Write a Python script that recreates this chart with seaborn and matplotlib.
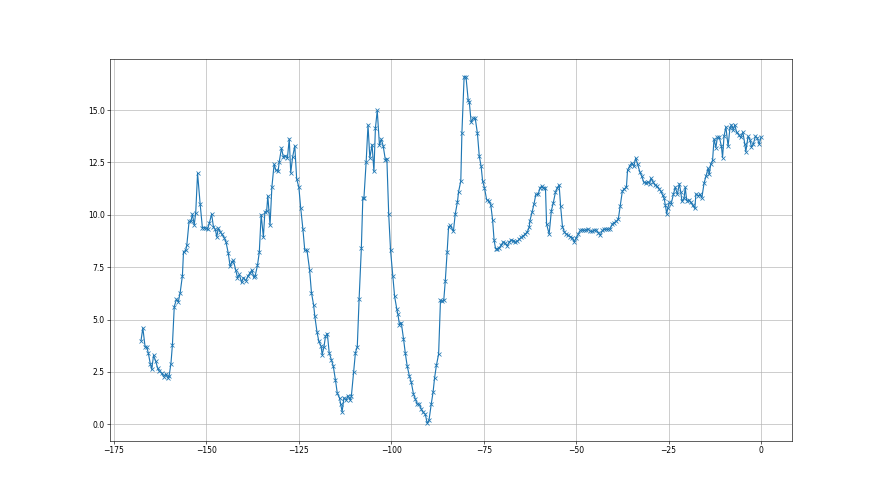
import matplotlib
matplotlib.use("Agg")
import matplotlib.pyplot as plt
import seaborn as sns
import pandas as pd

x_a = [-167.7, -167.2, -166.6, -166.1, -165.7, -165.2, -164.8, -164.3, -163.7, -163.2,
       -162.7, -162.1, -161.6, -161.0, -160.5, -160.1, -159.6, -159.2, -158.7, -158.1,
       -157.6, -157.1, -156.5, -156.2, -155.6, -155.3, -154.7, -154.2, -153.8, -153.3,
       -152.9, -152.4, -151.7, -151.1, -150.6, -150.1, -149.7, -149.2, -148.6, -148.1,
       -147.6, -147.2, -146.8, -146.3, -145.8, -145.2, -144.7, -144.1, -143.6, -143.1,
       -142.7, -142.1, -141.6, -141.1, -140.5, -140.0]
y_a = [3.99, 4.6, 3.7, 3.67, 3.38, 2.9, 2.62, 3.29, 3.0, 2.68,
       2.52, 2.46, 2.27, 2.4, 2.23, 2.3, 2.9, 3.8, 5.62, 5.97,
       5.85, 6.29, 7.09, 8.24, 8.3, 8.56, 9.68, 9.68, 10.03, 9.52,
       10.09, 11.98, 10.51, 9.39, 9.39, 9.36, 9.3, 9.61, 10.03, 9.42,
       9.3, 8.94, 9.36, 9.2, 9.07, 8.91, 8.69, 8.17, 7.54, 7.76,
       7.82, 7.38, 7.0, 7.15, 6.77, 7.0]

x_b = [-139.3, -138.8, -138.3, -137.7, -137.2, -136.8, -136.2, -135.7, -135.2, -134.6,
       -134.2, -133.7, -133.4, -132.8, -132.3, -131.7, -131.2, -130.6, -130.3, -129.7,
       -129.2, -128.7, -128.1, -127.6]
y_b = [6.85, 7.07, 7.2, 7.36, 7.01, 7.1, 7.58, 8.22, 10.01, 8.93,
       10.11, 10.2, 10.9, 9.5, 11.32, 12.41, 12.12, 12.09, 12.54, 13.18,
       12.76, 12.82, 12.7, 13.62]

x_c = [-127.2, -126.7, -126.1, -125.6, -125.0, -124.5, -123.9, -123.4, -122.8, -122.1,
       -121.6, -121.0, -120.7, -120.1, -119.6, -119.0, -118.7, -118.2, -117.8, -117.3,
       -116.8, -116.2, -115.7, -115.1, -114.6, -114.0, -113.7, -113.3, -112.8, -112.2,
       -111.7, -111.1, -110.8, -110.2, -109.7, -109.2, -108.7, -108.1, -107.7, -107.4,
       -106.8, -106.3, -105.8, -105.2, -104.7, -104.3, -103.8, -103.2, -102.7, -102.2,
       -101.6, -101.2, -100.7, -100.2, -99.6, -99.1, -98.5, -98.2, -97.8, -97.3,
       -96.7, -96.2, -95.7, -95.1, -94.6, -94.0, -93.5, -93.0, -92.4, -91.9,
       -91.4, -90.8, -90.3, -89.8, -89.2, -88.7, -88.3, -87.8, -87.2, -86.7,
       -86.2, -85.8, -85.4, -84.9, -84.5, -84.0]
y_c = [12.0, 12.75, 13.29, 11.72, 11.31, 10.32, 9.3, 8.3, 8.3, 7.38,
       6.29, 5.68, 5.17, 4.41, 3.96, 3.74, 3.32, 3.7, 4.2, 4.33,
       3.42, 3.07, 2.78, 2.11, 1.47, 1.25, 0.96, 0.6, 1.27, 1.15,
       1.37, 1.15, 1.34, 2.49, 3.42, 3.7, 6.0, 8.4, 10.8, 10.8,
       12.52, 14.28, 12.71, 13.35, 12.07, 14.12, 14.98, 13.32, 13.61, 13.29,
       12.62, 12.68, 10.03, 8.3, 7.09, 6.1, 5.49, 5.24, 4.76, 4.85,
       4.09, 3.38, 2.78, 2.3, 2.01, 1.44, 1.21, 0.96, 0.96, 0.73,
       0.57, 0.48, 0.05, 0.19, 0.96, 1.53, 2.2, 2.81, 3.35, 5.91,
       5.88, 5.94, 6.83, 8.21, 9.42, 9.49]

x_d = [-83.2, -82.7, -82.1, -81.8, -81.2, -80.9, -80.3, -79.8, -79.2, -78.9,
       -78.4, -77.8, -77.3, -76.7, -76.2, -75.7, -75.3, -74.8, -74.2, -73.7,
       -73.1, -72.6, -72.2, -71.8, -71.3, -70.8, -70.2, -69.7, -69.2, -68.6,
       -68.1, -67.5, -67.0, -66.5, -65.9, -65.4, -64.8, -64.3, -63.8, -63.2,
       -62.7, -62.5, -61.9, -61.4, -60.9, -60.3, -59.8, -59.3, -58.9, -58.3,
       -58.0, -57.3, -56.7, -56.2, -55.6, -55.1, -54.6]
y_d = [9.21, 10.04, 10.62, 11.1, 11.61, 13.91, 16.59, 16.59, 15.48, 15.38,
       14.42, 14.61, 14.61, 13.88, 12.79, 12.31, 11.61, 11.29, 10.71, 10.68,
       10.49, 9.76, 8.8, 8.38, 8.38, 8.42, 8.58, 8.7, 8.64, 8.51,
       8.7, 8.8, 8.77, 8.7, 8.73, 8.83, 8.93, 8.99, 9.08, 9.18,
       9.41, 9.72, 10.14, 10.52, 10.97, 10.97, 11.26, 11.38, 11.26, 11.29,
       9.56, 9.08, 10.2, 10.56, 11.07, 11.29, 11.42]

x_e = [-54.2, -53.7, -53.2, -52.7, -52.1, -51.6, -51.0, -50.5, -50.0, -49.4,
       -48.9, -48.3, -47.8, -47.3, -46.7, -46.2, -45.6, -45.1, -44.6, -44.0,
       -43.5, -42.9, -42.4, -41.8, -41.3, -40.8, -40.2, -39.7, -39.1, -38.6,
       -38.1, -37.5, -37.0, -36.4, -36.1, -35.5, -35.0, -34.4, -33.9, -33.4,
       -32.8, -32.3, -31.7, -31.2, -30.6, -30.1, -29.8, -29.2, -28.7, -28.1,
       -27.6]
y_e = [10.4, 9.44, 9.18, 9.08, 9.02, 8.96, 8.9, 8.7, 8.9, 9.08,
       9.25, 9.28, 9.25, 9.28, 9.31, 9.21, 9.21, 9.25, 9.28, 9.15,
       9.02, 9.25, 9.31, 9.31, 9.31, 9.34, 9.56, 9.63, 9.69, 9.79,
       10.4, 11.13, 11.23, 11.32, 12.12, 12.34, 12.47, 12.31, 12.7, 12.44,
       12.06, 11.86, 11.55, 11.51, 11.58, 11.48, 11.74, 11.58, 11.42, 11.36,
       11.23]

x_f = [-27.1, -26.6, -26.2, -25.9, -25.5, -25.2, -24.8, -24.3, -23.7, -23.2,
       -22.6, -22.1, -21.7, -21.4, -20.8, -20.5, -20.1, -19.6, -19.0, -18.5,
       -17.9, -17.6, -17.0, -16.5, -16.0, -15.4, -14.9, -14.3, -14.0, -13.6,
       -13.1, -12.7, -12.2, -11.8, -11.3, -10.7, -10.4, -10.0, -9.5, -8.9,
       -8.4, -8.0, -7.5, -7.1, -6.6, -6.0, -5.5, -4.9, -4.4, -4.1,
       -3.5, -3.0, -2.6, -2.1, -1.5, -1.0, -0.5, 0.0]
y_f = [11.13, 10.94, 10.78, 10.49, 10.04, 10.33, 10.59, 10.52, 10.97, 11.32,
       10.97, 11.48, 11.1, 10.65, 10.78, 11.32, 10.68, 10.71, 10.59, 10.46,
       10.3, 11.0, 10.91, 10.97, 10.81, 11.51, 11.83, 12.22, 11.93, 12.41,
       12.6, 13.62, 13.21, 13.69, 13.72, 13.27, 12.73, 13.75, 14.2, 13.27,
       14.14, 14.29, 14.07, 14.29, 13.94, 13.81, 13.69, 13.94, 13.4, 13.01,
       13.75, 13.59, 13.24, 13.37, 13.75, 13.66, 13.37, 13.69]

x_vals = x_a + x_b + x_c + x_d + x_e + x_f
y_vals = y_a + y_b + y_c + y_d + y_e + y_f
df = pd.DataFrame({"x": x_vals, "y": y_vals})

fig, ax = plt.subplots(figsize=(16, 9), dpi=55)
sns.lineplot(data=df, x="x", y="y", ax=ax, color="#1f77b4", linewidth=1.5,
             marker="x", markersize=6, markeredgecolor="#1f77b4",
             markeredgewidth=1.0, estimator=None, sort=False)
ax.grid(True, color="#b0b0b0", linewidth=0.8)
ax.set_axisbelow(True)
ax.set_xlabel("")
ax.set_ylabel("")
ax.margins(0.05)
fig.savefig("out.png", dpi=55)
